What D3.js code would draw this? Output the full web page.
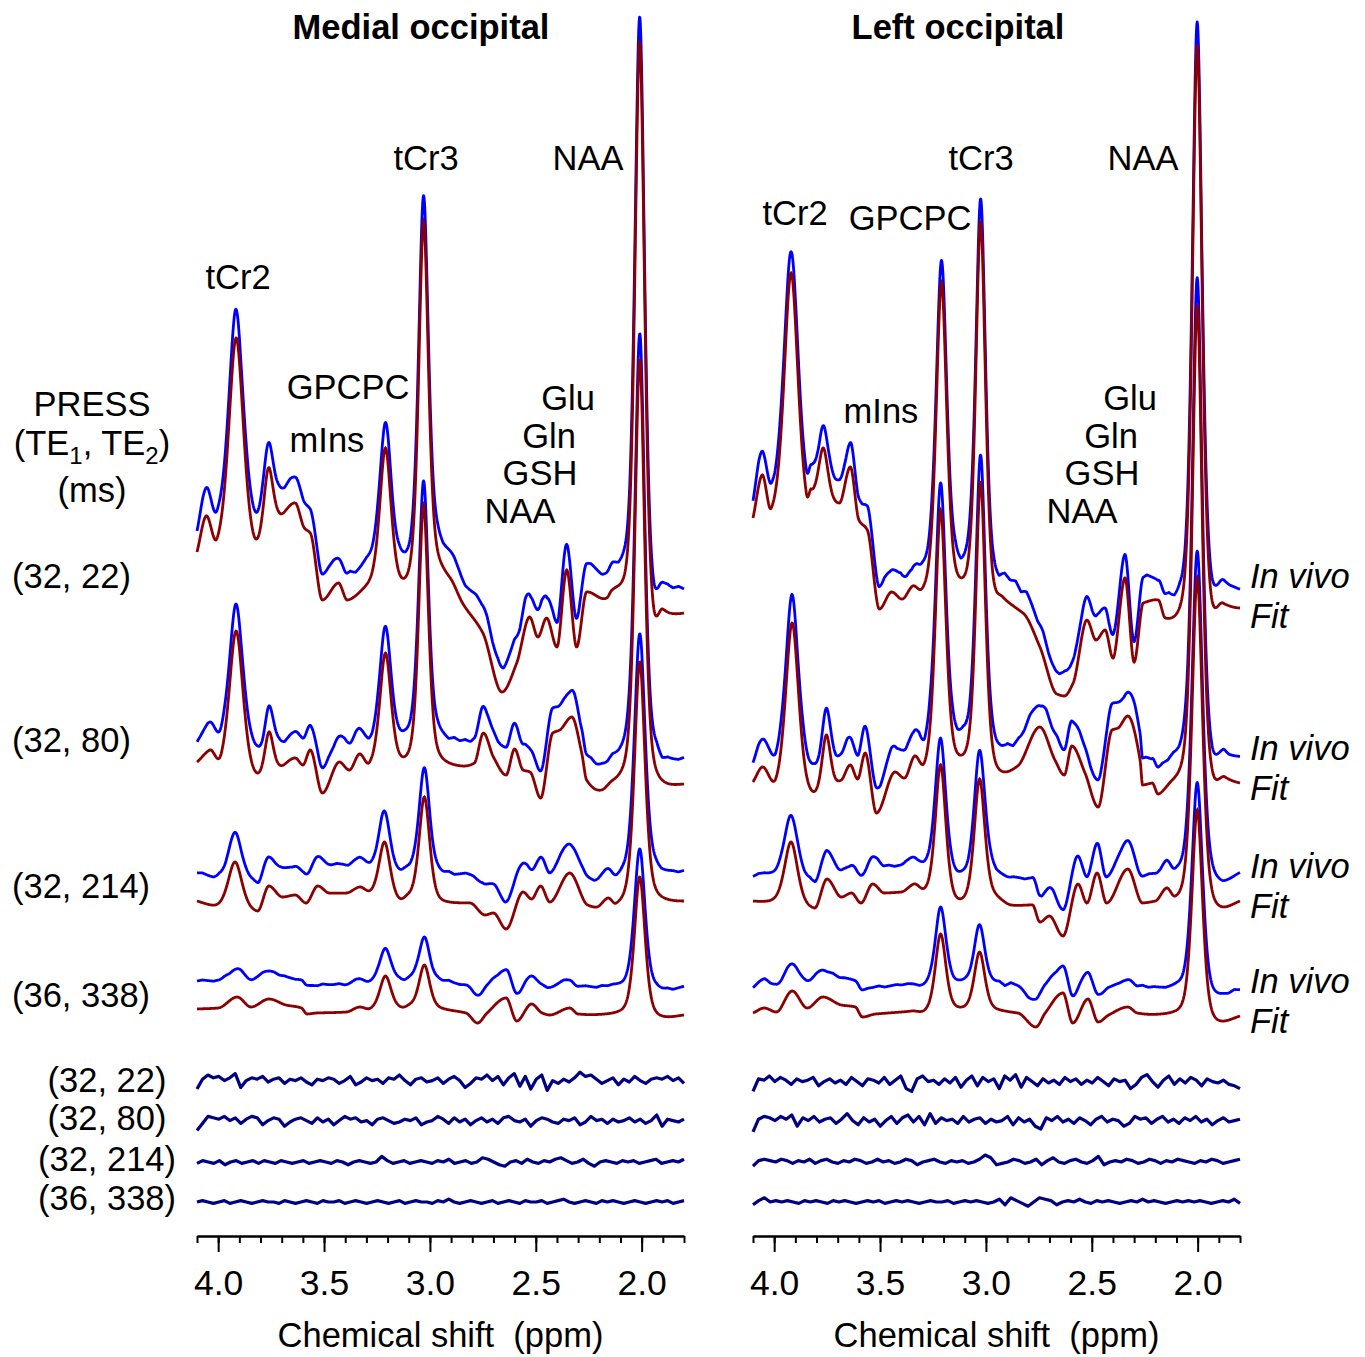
<!DOCTYPE html>
<html>
<head>
<meta charset="utf-8">
<script src="https://cdn.jsdelivr.net/npm/d3@7"></script>
<style>
  body { margin: 0; background: #fff; }
  svg text { font-family: "Liberation Sans", Arial, sans-serif; font-size: 34.5px; fill: #000; }
</style>
</head>
<body>
<div id="chart"></div>
<script>
// ---- data ----
// knots: [ppm, level] of the fitted trace, level in px above the trace's right-hand end
// peaks: [ppm, apex level, fwhm in ppm] for the big singlets
const majorTicks = [4.0, 3.5, 3.0, 2.5, 2.0];
const minorTicks = [4.1, 4.0, 3.9, 3.8, 3.7, 3.6, 3.5, 3.4, 3.3, 3.2, 3.1, 3.0, 2.9, 2.8, 2.7, 2.6, 2.5, 2.4, 2.3, 2.2, 2.1, 2.0, 1.9, 1.8];
const echoTimes = ["(32, 22)", "(32, 80)", "(32, 214)", "(36, 338)"];
const panelTitles = ["Medial occipital", "Left occipital"];

const medialKnots22 = [[4.10,61],[4.057,97],[4.005,75],[3.84,86],[3.71,100],[3.636,110],[3.593,85],[3.565,80],[3.508,13],[3.432,30],[3.39,13],[3.286,33],[3.12,35],[2.964,63],[2.907,36],[2.846,10],[2.75,-20],[2.66,-79],[2.59,-50],[2.529,-4],[2.49,-24],[2.449,-5],[2.40,-34],[2.354,43],[2.307,-34],[2.26,21],[2.165,15],[2.14,23],[1.947,13],[1.90,4],[1.867,0],[1.80,0]];
const medialPeaks22 = [[3.915,275,0.085],[3.763,145,0.055],[3.21,165,0.065],[3.03,391,0.055],[2.009,570,0.055]];
const medialKnots80 = [[4.10,22],[4.04,34],[3.985,31],[3.815,11],[3.71,19],[3.635,26],[3.60,19],[3.565,34],[3.508,-9],[3.428,22],[3.38,14],[3.333,30],[3.285,22],[3.144,31],[2.955,31],[2.845,18],[2.79,21],[2.747,51],[2.70,27],[2.64,9],[2.60,35],[2.56,14],[2.527,12],[2.477,-14],[2.42,51],[2.387,54],[2.33,67],[2.283,31],[2.26,4],[2.19,-6],[2.136,4],[1.93,14],[1.80,0]];
const medialPeaks80 = [[3.915,153,0.08],[3.76,52,0.05],[3.21,131,0.065],[3.03,279,0.055],[2.009,424,0.055]];
const medialKnots214 = [[4.10,0],[3.98,3],[3.815,-10],[3.76,15],[3.697,4],[3.636,6],[3.585,-2],[3.53,15],[3.475,8],[3.395,8],[3.333,14],[3.28,11],[3.144,3],[3.10,8],[2.964,8],[2.907,-1],[2.81,-2],[2.74,-14],[2.70,-12],[2.64,-28],[2.56,9],[2.52,2],[2.477,15],[2.434,-1],[2.34,28],[2.255,-4],[2.212,-6],[2.16,3],[2.12,-2],[1.93,11],[1.80,0]];
const medialPeaks214 = [[3.92,39,0.08],[3.214,59,0.065],[3.026,104,0.06],[2.009,239,0.06]];
const medialKnots338 = [[4.10,6],[4.00,7],[3.91,18],[3.845,8],[3.76,16],[3.68,10],[3.607,7],[3.58,1],[3.536,2],[3.395,3],[3.333,8],[3.28,7],[3.133,8],[3.09,12],[2.964,10],[2.907,5],[2.83,2],[2.775,-8],[2.73,2],[2.64,17],[2.59,-6],[2.52,11],[2.47,2],[2.434,0],[2.34,7],[2.30,1],[2.12,3],[1.93,3],[1.80,0]];
const medialPeaks338 = [[3.21,39,0.065],[3.026,50,0.06],[2.009,138,0.06]];

const lateralKnots22 = [[4.10,90],[4.057,133],[4.014,100],[3.848,115],[3.825,119],[3.692,105],[3.64,141],[3.60,88],[3.56,78],[3.503,-1],[3.446,16],[3.394,9],[3.346,22],[3.30,20],[3.124,31],[2.973,48],[2.92,11],[2.825,-5],[2.745,-39],[2.665,-86],[2.63,-88],[2.588,-75],[2.523,-12],[2.48,-32],[2.437,-22],[2.40,-50],[2.343,30],[2.30,-54],[2.257,5],[2.21,8],[2.186,8],[2.153,-10],[1.94,21],[1.88,5],[1.80,0]];
const lateralPeaks22 = [[3.92,335,0.08],[3.768,160,0.055],[3.21,325,0.06],[3.025,386,0.055],[2.002,563,0.055]];
const lateralKnots80 = [[4.10,1],[4.057,16],[3.99,6],[3.82,-8],[3.683,3],[3.64,18],[3.606,4],[3.57,30],[3.517,-30],[3.43,11],[3.384,5],[3.337,27],[3.29,21],[3.10,31],[2.957,23],[2.85,17],[2.745,56],[2.674,23],[2.63,8],[2.594,37],[2.532,10],[2.47,-24],[2.404,53],[2.376,55],[2.33,67],[2.272,23],[2.26,-2],[2.215,0],[2.186,-11],[2.12,3],[1.931,13],[1.87,6],[1.80,0]];
const lateralPeaks80 = [[3.915,160,0.075],[3.754,48,0.05],[3.214,273,0.06],[3.025,301,0.055],[2.002,478,0.055]];
const lateralKnots214 = [[4.10,0],[4.00,3],[3.81,-7],[3.75,22],[3.683,4],[3.635,8],[3.59,-2],[3.535,17],[3.479,8],[3.40,9],[3.34,17],[3.29,13],[3.133,3],[2.958,9],[2.88,-4],[2.78,-4],[2.745,-21],[2.70,-15],[2.636,-35],[2.565,17],[2.523,-2],[2.475,28],[2.43,-2],[2.33,32],[2.26,-2],[2.20,0],[2.148,13],[2.106,5],[1.93,9],[1.80,0]];
const lateralPeaks214 = [[3.92,59,0.075],[3.214,136,0.06],[3.03,122,0.06],[2.002,323,0.06]];
const lateralKnots338 = [[4.10,3],[4.047,8],[3.99,4],[3.915,25],[3.844,8],[3.77,19],[3.683,11],[3.617,9],[3.583,-1],[3.52,2],[3.351,5],[3.29,6],[3.124,9],[2.96,9],[2.85,3],[2.764,-11],[2.72,3],[2.636,23],[2.59,-7],[2.518,17],[2.47,-6],[2.42,1],[2.33,9],[2.285,3],[2.12,4],[1.93,4],[1.80,0]];
const lateralPeaks338 = [[3.214,82,0.06],[3.03,64,0.06],[2.002,206,0.06]];

// residuals (in vivo - fit), px, evenly spaced from 4.1 to 1.8 ppm
const medialRes22 = [-5,2,5,3,4,1,3,6,-4,1,3,2,4,0,2,3,-1,2,1,3,0,-2,2,1,3,2,-1,1,4,-2,0,3,1,2,-1,3,2,5,1,-2,2,3,0,1,3,-1,2,4,1,-4,-1,3,2,5,1,4,-2,3,6,-3,4,-5,2,5,-6,1,-1,2,0,3,7,4,5,2,-1,1,3,-2,2,0,4,1,-1,2,3,2,4,1,3,-1];
const medialRes80 = [-6,-1,4,3,2,4,1,3,-1,2,4,3,-2,1,3,2,-3,0,2,3,1,-1,3,0,2,-2,1,4,2,3,0,1,-2,2,3,1,-1,0,2,1,3,-2,0,1,4,2,-1,3,0,2,-2,1,3,0,2,-1,3,4,1,0,2,-3,1,3,2,0,-1,2,1,3,-2,0,4,1,2,-1,2,0,1,3,0,2,-1,1,5,-3,2,1,0,2];
const medialRes214 = [-1,1,0,-1,1,-2,0,1,-1,0,1,-1,1,0,-1,1,0,-1,0,1,-1,0,1,0,-1,1,0,-2,0,1,0,-1,0,4,1,-1,0,1,-1,0,1,0,-1,1,0,2,-1,0,1,-1,0,3,2,0,-2,-3,0,1,-1,2,0,-1,1,0,2,3,1,-1,0,2,-1,-3,0,1,0,-1,1,0,1,-1,0,1,2,-1,0,1,0,2];
const medialRes338 = [0,1,0,-1,0,1,-1,0,1,0,-1,0,1,0,0,-1,1,0,-1,0,1,0,-1,1,0,0,1,-1,0,1,0,-1,0,1,0,-1,0,1,-1,0,1,0,0,-1,1,0,2,0,-1,0,1,0,-1,0,1,-1,0,1,0,-1,1,0,0,1,-1,0,1,2,0,-1,0,1,0,-1,1,0,1,0,-1,0,1,0,-1,0,1,0,1,-1,0,1];
const lateralRes22 = [-6,3,2,5,1,4,2,-1,3,1,2,4,-2,1,3,0,2,-1,4,1,-2,3,2,0,4,-1,2,5,-4,-6,3,5,1,2,-1,3,0,4,-3,2,5,-2,4,1,3,-4,5,2,6,-3,4,1,-2,3,0,2,-1,4,1,3,-1,2,0,4,1,-2,3,1,2,-4,-1,4,6,1,-3,2,5,-1,3,0,4,2,-2,3,1,0,2,-1,-2,-4];
const lateralRes80 = [-7,2,4,3,1,4,2,5,-3,3,1,4,0,2,3,-1,2,6,1,-2,3,0,2,-3,1,4,-1,3,5,0,4,-2,6,-1,3,1,2,-1,4,0,2,3,-1,2,0,1,4,-2,3,0,2,-3,-5,3,1,4,0,2,-1,3,1,-2,2,4,0,2,1,-3,-1,4,2,3,-1,2,4,0,2,-1,3,1,4,0,2,-2,1,3,0,1,2];
const lateralRes214 = [-3,1,2,1,0,2,1,-1,1,0,2,-1,1,2,0,-1,1,0,2,1,-1,0,2,0,1,-1,0,2,1,-2,0,1,2,0,-1,1,0,1,-1,0,2,5,3,-2,-1,0,2,1,-1,0,2,-2,1,3,0,-1,1,2,0,-1,1,4,-2,0,1,0,2,1,-1,0,2,1,-1,1,0,2,1,0,-1,1,0,2,1,-1,0,1,2];
const lateralRes338 = [-2,1,3,0,1,0,1,0,-1,1,0,1,0,-1,1,0,1,0,-1,0,1,0,1,-1,0,1,0,1,0,-1,0,1,0,0,1,-1,0,1,0,1,0,-1,0,2,-2,3,1,-1,-3,0,3,2,1,-2,0,1,0,2,0,-1,1,0,1,0,-1,0,1,0,2,0,1,0,-1,0,1,0,1,0,1,0,-1,0,1,0,2,-1];

// ---- layout ----
const W = 1365, H = 1357;
const BLUE = "#0000ff", RED = "#8b0000", NAVY = "#000080";
const ETA = 0.5;

const svg = d3.select("#chart").append("svg")
    .attr("width", W)
    .attr("height", H);
svg.append("rect").attr("width", W).attr("height", H).attr("fill", "#fff");

// pseudo-Voigt with unit height
function pv(x, c, w) {
    const d = (x - c) / (w / 2);
    return ETA / (1 + d * d) + (1 - ETA) * Math.exp(-Math.LN2 * d * d);
}

// monotone cubic through knots (Fritsch-Carlson)
function monotone(xs, ys) {
    const n = xs.length, dx = [], m = [], t = new Array(n);
    for (let i = 0; i < n - 1; i++) { dx[i] = xs[i + 1] - xs[i]; m[i] = (ys[i + 1] - ys[i]) / dx[i]; }
    t[0] = m[0]; t[n - 1] = m[n - 2];
    for (let i = 1; i < n - 1; i++) {
        if (m[i - 1] * m[i] <= 0) t[i] = 0;
        else {
            const w1 = 2 * dx[i] + dx[i - 1], w2 = dx[i] + 2 * dx[i - 1];
            t[i] = (w1 + w2) / (w1 / m[i - 1] + w2 / m[i]);
        }
    }
    return x => {
        let i = Math.max(0, Math.min(n - 2, d3.bisectRight(xs, x) - 1));
        const h = dx[i], s = (x - xs[i]) / h, s2 = s * s, s3 = s2 * s;
        return (2 * s3 - 3 * s2 + 1) * ys[i] + (s3 - 2 * s2 + s) * h * t[i]
            + (-2 * s3 + 3 * s2) * ys[i + 1] + (s3 - s2) * h * t[i + 1];
    };
}

// split read-off levels into a smooth baseline plus the listed peaks
function buildFit(knots, peaks) {
    const sorted = knots.slice().sort((a, b) => a[0] - b[0]);
    const xs = sorted.map(k => k[0]);
    let bl = monotone(xs, sorted.map(k => k[1]));
    let h = peaks.map(p => p[1] - bl(p[0]));
    for (let it = 0; it < 8; it++) {
        const baseVals = sorted.map(k => k[1] - d3.sum(peaks, (p, j) => h[j] * pv(k[0], p[0], p[2])));
        bl = monotone(xs, baseVals);
        h = peaks.map((p, i) => p[1] - bl(p[0]) - d3.sum(peaks, (q, j) => j === i ? 0 : h[j] * pv(p[0], q[0], q[2])));
    }
    return x => bl(x) + d3.sum(peaks, (p, j) => h[j] * pv(x, p[0], p[2]));
}

const grid = d3.range(0, 1151).map(i => 4.1 - i * 0.002);

const panels = [
    {
        x0: 197, x1: 684, titleX: 421, title: panelTitles[0],
        bases: [613, 784, 901, 1015], shifts: [25, 25, 29, 28], resBases: [1082, 1122, 1162, 1202],
        rows: [
            [medialKnots22, medialPeaks22, medialRes22],
            [medialKnots80, medialPeaks80, medialRes80],
            [medialKnots214, medialPeaks214, medialRes214],
            [medialKnots338, medialPeaks338, medialRes338]
        ]
    },
    {
        x0: 753, x1: 1240, titleX: 958, title: panelTitles[1],
        bases: [608, 783, 901, 1016], shifts: [22, 25, 27, 27], resBases: [1083, 1122, 1162, 1202],
        rows: [
            [lateralKnots22, lateralPeaks22, lateralRes22],
            [lateralKnots80, lateralPeaks80, lateralRes80],
            [lateralKnots214, lateralPeaks214, lateralRes214],
            [lateralKnots338, lateralPeaks338, lateralRes338]
        ]
    }
];

panels.forEach(panel => {
    const x = d3.scaleLinear().domain([4.1, 1.8]).range([panel.x0, panel.x1]);

    panel.rows.forEach(([knots, peaks, resid], r) => {
        const base = panel.bases[r];
        const y = d3.scaleLinear().domain([0, 100]).range([base, base - 100]);
        const fit = buildFit(knots, peaks);
        const resPpm = resid.map((_, i) => 4.1 - i * 2.3 / (resid.length - 1));
        const noise = d3.scaleLinear().domain(resPpm).range(resid);
        const shift = panel.shifts[r];

        svg.append("path")
            .datum(grid)
            .attr("fill", "none")
            .attr("stroke", BLUE)
            .attr("stroke-width", 2.8)
            .attr("stroke-linejoin", "round")
            .attr("d", d3.line().x(p => x(p)).y(p => y(fit(p) + shift + 0.8 * noise(p))));

        svg.append("path")
            .datum(grid)
            .attr("fill", "none")
            .attr("stroke", RED)
            .attr("stroke-width", 2.8)
            .attr("d", d3.line().x(p => x(p)).y(p => y(fit(p))));

        // residual trace at the bottom
        const ry = d3.scaleLinear().domain([0, 10]).range([panel.resBases[r], panel.resBases[r] - 14]);
        svg.append("path")
            .datum(resid)
            .attr("fill", "none")
            .attr("stroke", NAVY)
            .attr("stroke-width", 3.2)
            .attr("stroke-linejoin", "round")
            .attr("d", d3.line().x((v, i) => x(resPpm[i])).y(v => ry(v)));
    });

    // axis: minor then major ticks
    const axisMinor = svg.append("g")
        .attr("transform", "translate(0,1236)")
        .call(d3.axisBottom(x).tickValues(minorTicks).tickSize(7).tickSizeOuter(0).tickFormat(""));
    const axisMajor = svg.append("g")
        .attr("transform", "translate(0,1236)")
        .call(d3.axisBottom(x).tickValues(majorTicks).tickSize(16).tickSizeOuter(0).tickPadding(18).tickFormat(d3.format(".1f")));
    [axisMinor, axisMajor].forEach(g => {
        g.selectAll("path, line").attr("stroke", "#000").attr("stroke-width", 2);
    });
    axisMajor.selectAll("text").style("font-size", "35.5px");

    svg.append("text")
        .attr("x", (panel.x0 + panel.x1) / 2)
        .attr("y", 1347)
        .attr("text-anchor", "middle")
        .style("white-space", "pre")
        .text("Chemical shift  (ppm)");

    svg.append("text")
        .attr("x", panel.titleX)
        .attr("y", 39)
        .attr("text-anchor", "middle")
        .style("font-weight", "bold")
        .text(panel.title);
});

// metabolite labels
const peakLabels = [
    ["tCr2", 238, 289], ["GPCPC", 348, 399], ["mIns", 327, 452], ["tCr3", 426, 170], ["NAA", 588, 170],
    ["Glu", 568, 410], ["Gln", 549, 448], ["GSH", 540, 485], ["NAA", 520, 523],
    ["tCr2", 795, 225], ["GPCPC", 910, 230], ["mIns", 881, 423], ["tCr3", 981, 170], ["NAA", 1143, 170],
    ["Glu", 1130, 410], ["Gln", 1111, 448], ["GSH", 1102, 485], ["NAA", 1082, 523]
];
svg.selectAll(".plabel")
    .data(peakLabels)
    .enter()
    .append("text")
    .attr("class", "plabel")
    .attr("x", d => d[1])
    .attr("y", d => d[2])
    .attr("text-anchor", "middle")
    .text(d => d[0]);

// PRESS header
svg.append("text").attr("x", 92).attr("y", 416).attr("text-anchor", "middle").text("PRESS");
const te = svg.append("text").attr("x", 92).attr("y", 455).attr("text-anchor", "middle");
te.append("tspan").text("(TE");
te.append("tspan").attr("dy", 9).style("font-size", "24px").text("1");
te.append("tspan").attr("dy", -9).text(", TE");
te.append("tspan").attr("dy", 9).style("font-size", "24px").text("2");
te.append("tspan").attr("dy", -9).text(")");
svg.append("text").attr("x", 92).attr("y", 502).attr("text-anchor", "middle").text("(ms)");

// echo-time labels next to the spectra and next to the residuals
const rowLabelY = [588, 752, 898, 1007];
const resLabelY = [1092, 1130, 1171, 1210];
echoTimes.forEach((t, i) => {
    svg.append("text").attr("x", 12).attr("y", rowLabelY[i]).text(t);
    svg.append("text").attr("x", 107).attr("y", resLabelY[i]).attr("text-anchor", "middle").text(t);
});

// legend words on the right
const vivoY = [588, 760, 878, 993];
const fitY = [628, 800, 918, 1033];
vivoY.forEach((yy, i) => {
    svg.append("text").attr("x", 1250).attr("y", yy).style("font-style", "italic").text("In vivo");
    svg.append("text").attr("x", 1250).attr("y", fitY[i]).style("font-style", "italic").text("Fit");
});
</script>
</body>
</html>
